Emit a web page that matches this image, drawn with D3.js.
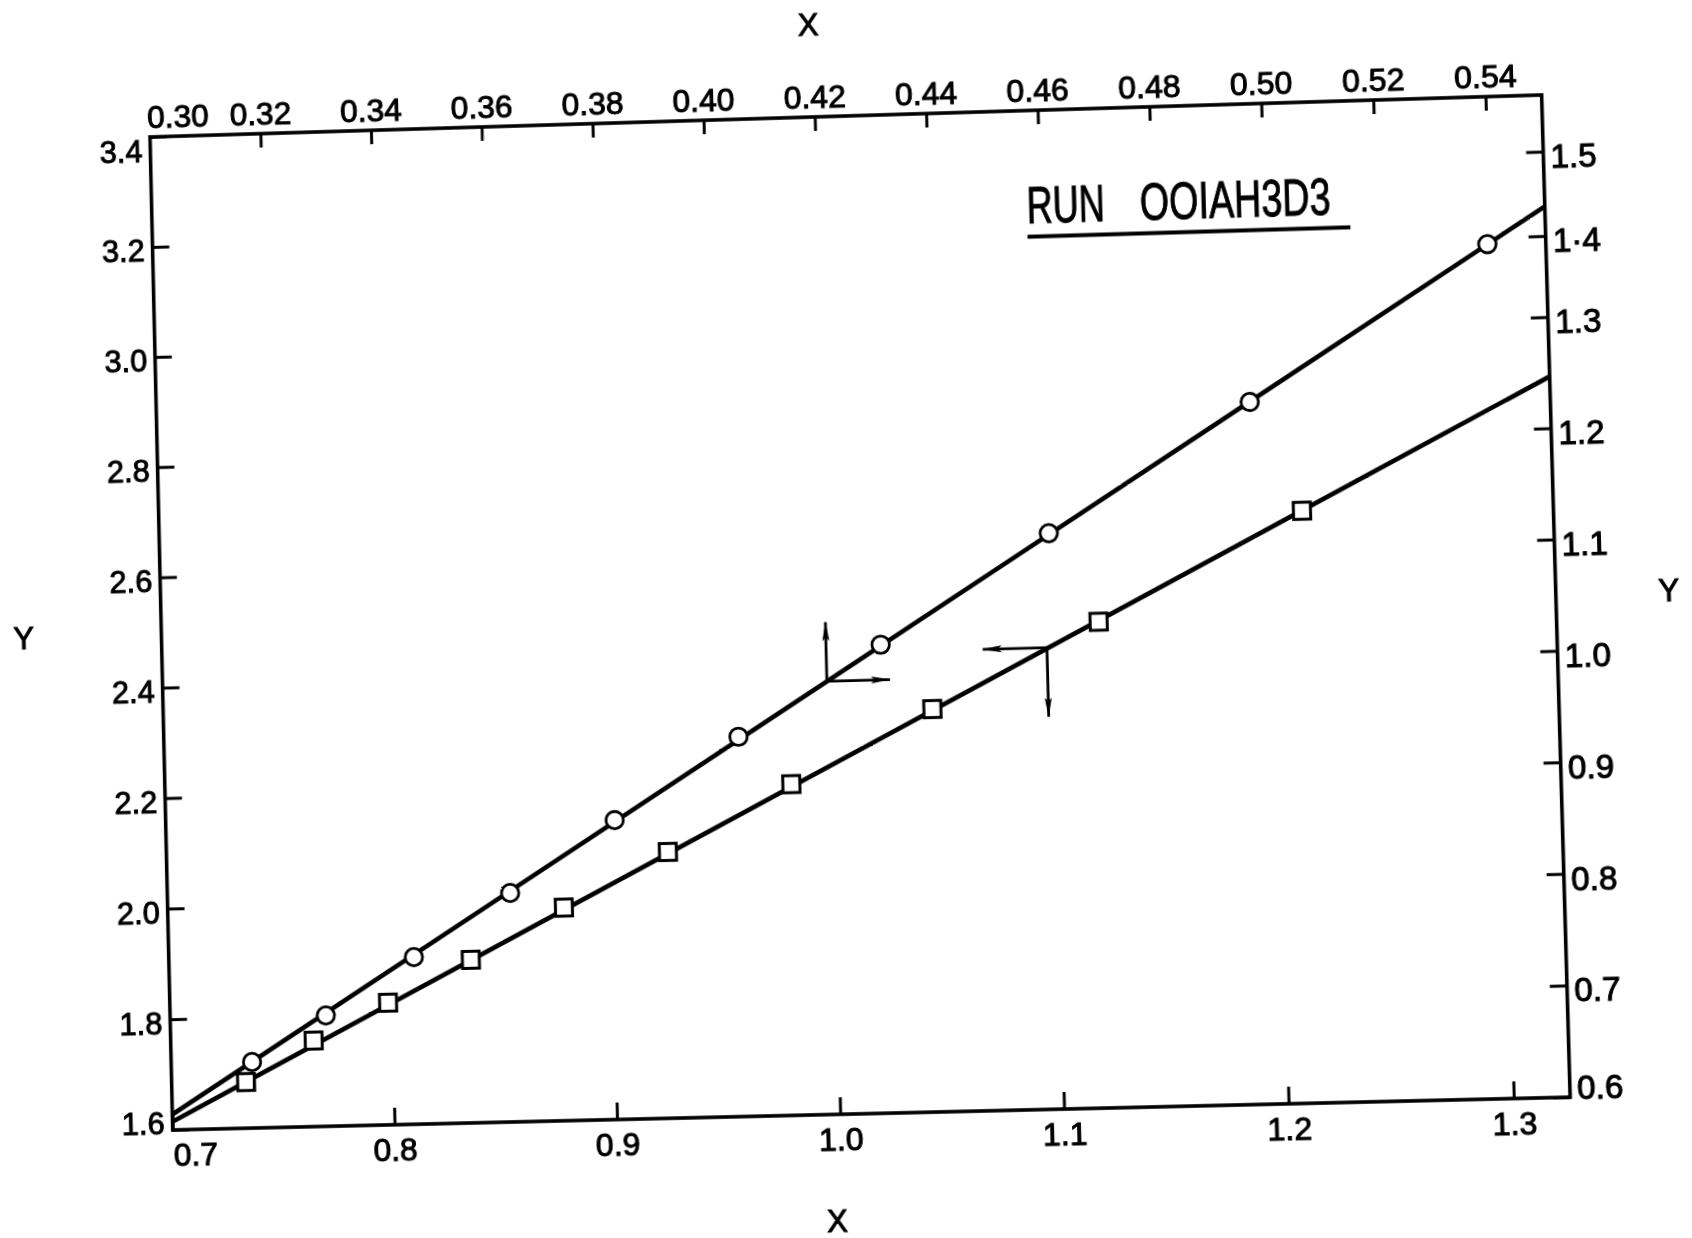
<!DOCTYPE html>
<html>
<head>
<meta charset="utf-8">
<script src="https://cdn.jsdelivr.net/npm/d3@7"></script>
<style>
  html, body { margin: 0; padding: 0; background: #fff; overflow: hidden; width: 1692px; height: 1238px; }
  #chart { position: absolute; left: 0; top: 0; transform-origin: 0 0; }
  text { font-family: "Liberation Sans", Arial, sans-serif; fill: #000; stroke: #000; stroke-width: 1px; }
</style>
</head>
<body>
<svg id="chart" width="1800" height="1360"></svg>
<script>
// ---- data -------------------------------------------------------------
// Squares: read against the bottom X axis and the left Y axis
const squareX = [0.7336, 0.7645, 0.7984, 0.8361, 0.8785, 0.9258, 0.9819, 1.0459, 1.1212, 1.2132];
const squareY = [1.6833, 1.7552, 1.8203, 1.8940, 1.9840, 2.0796, 2.1961, 2.3248, 2.4741, 2.6639];
// Circles: read against the top X axis and the right Y axis
const circleX = [0.3146, 0.3281, 0.3442, 0.3618, 0.3809, 0.4035, 0.4294, 0.4600, 0.4965, 0.5396];
const circleY = [0.6596, 0.7000, 0.7507, 0.8064, 0.8697, 0.9420, 1.0216, 1.1180, 1.2312, 1.3920];
// Straight-line fits, running edge to edge of the frame
const squareFitX = [0.70, 1.325];
const squareFitY = [1.615, 2.893];
const circleFitX = [0.30, 0.55];
const circleFitY = [0.614, 1.435];
// Axis ranges and ticks
const bottomDomain = [0.7, 1.325];
const topDomain = [0.30, 0.55];
const leftDomain = [1.6, 3.4];
const rightDomain = [0.6, 1.5];
const bottomTicks = [0.7, 0.8, 0.9, 1.0, 1.1, 1.2, 1.3];
const topTicks = [0.30, 0.32, 0.34, 0.36, 0.38, 0.40, 0.42, 0.44, 0.46, 0.48, 0.50, 0.52, 0.54];
const leftTicks = [1.6, 1.8, 2.0, 2.2, 2.4, 2.6, 2.8, 3.0, 3.2, 3.4];
const rightTicks = [0.6, 0.7, 0.8, 0.9, 1.0, 1.1, 1.2, 1.3, 1.4, 1.5];
// Direction markers: circles -> top/right axes, squares -> bottom/left axes
const circleArrowAt = [0.4196, 0.990];
const squareArrowAt = [1.0978, 2.430];
const runLabel = ["RUN", "OOIAH3D3"];
const runLabelAt = [1.094, 3.197];

// ---- layout -----------------------------------------------------------
const X0 = 172.7, X1 = 1567.7, Y0 = 132, Y1 = 1130;
const W = X1 - X0, H = Y1 - Y0;

const svg = d3.select("#chart");

// The plotted sheet sits slightly askew on the page: a projective
// transform carries the flat frame onto its tilted outline.
const sheetCorners = [[150, 137], [1541.7, 95], [1570.3, 1097.3], [172.7, 1130]];
function solveHomography(src, dst) {
  const A = [];
  for (let i = 0; i < 4; i++) {
    const [x, y] = src[i], [u, v] = dst[i];
    A.push([x, y, 1, 0, 0, 0, -u * x, -u * y, u]);
    A.push([0, 0, 0, x, y, 1, -v * x, -v * y, v]);
  }
  const n = 8;
  for (let c = 0; c < n; c++) {
    let p = c;
    for (let r = c + 1; r < n; r++) if (Math.abs(A[r][c]) > Math.abs(A[p][c])) p = r;
    [A[c], A[p]] = [A[p], A[c]];
    for (let r = 0; r < n; r++) {
      if (r === c) continue;
      const f = A[r][c] / A[c][c];
      for (let k = c; k <= n; k++) A[r][k] -= f * A[c][k];
    }
  }
  return A.map((row, i) => row[n] / row[i]);
}
const h = solveHomography([[X0, Y0], [X1, Y0], [X1, Y1], [X0, Y1]], sheetCorners);
svg.style("transform",
  `matrix3d(${h[0]},${h[3]},0,${h[6]},${h[1]},${h[4]},0,${h[7]},0,0,1,0,${h[2]},${h[5]},0,1)`);

// ---- scales -----------------------------------------------------------
const xB = d3.scaleLinear(bottomDomain, [X0, X1]);
const xT = d3.scaleLinear(topDomain, [X0, X1]);
const yL = d3.scaleLinear(leftDomain, [Y1, Y0]);
const yRlin = d3.scaleLinear(rightDomain, [Y1, Y0]);
// Above 1.3 the right-hand divisions are lettered closer together.
const yR = d3.scaleLinear([0.6, 1.3, 1.4, 1.5], [0.6, 1.3, 1.373, 1.449].map(yRlin));

// ---- axes -------------------------------------------------------------
function styleAxis(g, size) {
  g.select(".domain").remove();
  g.attr("font-family", null).attr("font-size", null);
  g.selectAll(".tick line").attr("stroke", "#000").attr("stroke-width", 3);
  g.selectAll(".tick text").style("font-size", size + "px");
}

const gB = svg.append("g").attr("transform", `translate(0,${Y1})`)
  .call(d3.axisBottom(xB).tickValues(bottomTicks).tickSize(-17).tickPadding(13)
    .tickFormat(d3.format(".1f")));
styleAxis(gB, 32);
gB.selectAll(".tick").filter(d => d === 0.7).select("text").attr("text-anchor", "start");

const gT = svg.append("g").attr("transform", `translate(0,${Y0})`)
  .call(d3.axisTop(xT).tickValues(topTicks).tickSize(-14).tickPadding(9)
    .tickFormat(d3.format(".2f")));
styleAxis(gT, 32);
gT.selectAll(".tick").filter(d => d === 0.30).call(t => {
  t.select("line").remove();
  t.select("text").attr("text-anchor", "start").attr("x", -3);
});

const gL = svg.append("g").attr("transform", `translate(${X0},0)`)
  .call(d3.axisLeft(yL).tickValues(leftTicks).tickSize(-17).tickPadding(8)
    .tickFormat(d3.format(".1f")));
styleAxis(gL, 31);
gL.selectAll(".tick text").attr("dy", d => d === 3.4 ? "0.79em" : d === 1.6 ? "0.12em" : "0.45em");

const gR = svg.append("g").attr("transform", `translate(${X1},0)`)
  .call(d3.axisRight(yR).tickValues(rightTicks).tickSize(-17).tickPadding(7)
    .tickFormat(d => d === 1.4 ? "1\u00B74" : d3.format(".1f")(d)));
styleAxis(gR, 33);
gR.selectAll(".tick text").attr("dy", d => d === 0.6 ? "0.05em" : "0.48em");

// frame
svg.append("rect").attr("x", X0).attr("y", Y0).attr("width", W).attr("height", H)
  .attr("fill", "none").attr("stroke", "#000").attr("stroke-width", 3.6);

// axis titles
const titleStyle = sel => sel.attr("text-anchor", "middle").attr("dy", "0.36em").style("font-size", "31px");
svg.append("text").attr("x", X0 + 0.476 * W).attr("y", Y1 + 106).text("X").call(titleStyle);
svg.append("text").attr("x", X0 + 0.477 * W).attr("y", Y0 - 93).text("X").call(titleStyle);
svg.append("text").attr("x", X0 - 139).attr("y", Y1 - 0.498 * H).text("Y").call(titleStyle);
svg.append("text").attr("x", X1 + 112).attr("y", Y1 - 0.502 * H).text("Y").call(titleStyle);

// ---- fitted lines -----------------------------------------------------
svg.append("line")
  .attr("x1", xB(squareFitX[0])).attr("y1", yL(squareFitY[0]))
  .attr("x2", xB(squareFitX[1])).attr("y2", yL(squareFitY[1]))
  .attr("stroke", "#000").attr("stroke-width", 4.6);
svg.append("line")
  .attr("x1", xT(circleFitX[0])).attr("y1", yR(circleFitY[0]))
  .attr("x2", xT(circleFitX[1])).attr("y2", yR(circleFitY[1]))
  .attr("stroke", "#000").attr("stroke-width", 4.6);

// ---- arrows -----------------------------------------------------------
const defs = svg.append("defs");
defs.append("marker").attr("id", "head")
  .attr("viewBox", "0 0 20 8").attr("refX", 19).attr("refY", 4)
  .attr("markerWidth", 20).attr("markerHeight", 8)
  .attr("markerUnits", "userSpaceOnUse").attr("orient", "auto")
  .append("path").attr("d", "M0,0.5 L20,4 L0,7.5 L4,4 Z").attr("fill", "#000");

function arrow(x, y, dx, dy) {
  svg.append("line").attr("x1", x).attr("y1", y).attr("x2", x + dx).attr("y2", y + dy)
    .attr("stroke", "#000").attr("stroke-width", 2.8).attr("marker-end", "url(#head)");
}
const ca = [xT(circleArrowAt[0]), yR(circleArrowAt[1])];
arrow(ca[0], ca[1], 0, -59);
arrow(ca[0], ca[1], 63, 0);
const sa = [xB(squareArrowAt[0]), yL(squareArrowAt[1])];
arrow(sa[0], sa[1], -64, 0);
arrow(sa[0], sa[1], 0, 69);

// ---- markers ----------------------------------------------------------
svg.append("g").selectAll("rect").data(squareX.map((x, i) => [x, squareY[i]])).join("rect")
  .attr("x", d => xB(d[0]) - 8.5).attr("y", d => yL(d[1]) - 8.5)
  .attr("width", 17).attr("height", 17)
  .attr("fill", "#fff").attr("stroke", "#000").attr("stroke-width", 3);
svg.append("g").selectAll("circle").data(circleX.map((x, i) => [x, circleY[i]])).join("circle")
  .attr("cx", d => xT(d[0])).attr("cy", d => yR(d[1])).attr("r", 8.7)
  .attr("fill", "#fff").attr("stroke", "#000").attr("stroke-width", 2.8);

// ---- run label --------------------------------------------------------
const lx = xB(runLabelAt[0]), ly = yL(runLabelAt[1]);
svg.append("text").attr("x", lx).attr("y", ly).text(runLabel[0])
  .style("font-size", "52px").attr("textLength", 78).attr("lengthAdjust", "spacingAndGlyphs");
svg.append("text").attr("x", lx + 113).attr("y", ly).text(runLabel[1])
  .style("font-size", "52px").attr("textLength", 190).attr("lengthAdjust", "spacingAndGlyphs");
svg.append("line").attr("x1", lx).attr("y1", ly + 14).attr("x2", lx + 322).attr("y2", ly + 14)
  .attr("stroke", "#000").attr("stroke-width", 4);
</script>
</body>
</html>
